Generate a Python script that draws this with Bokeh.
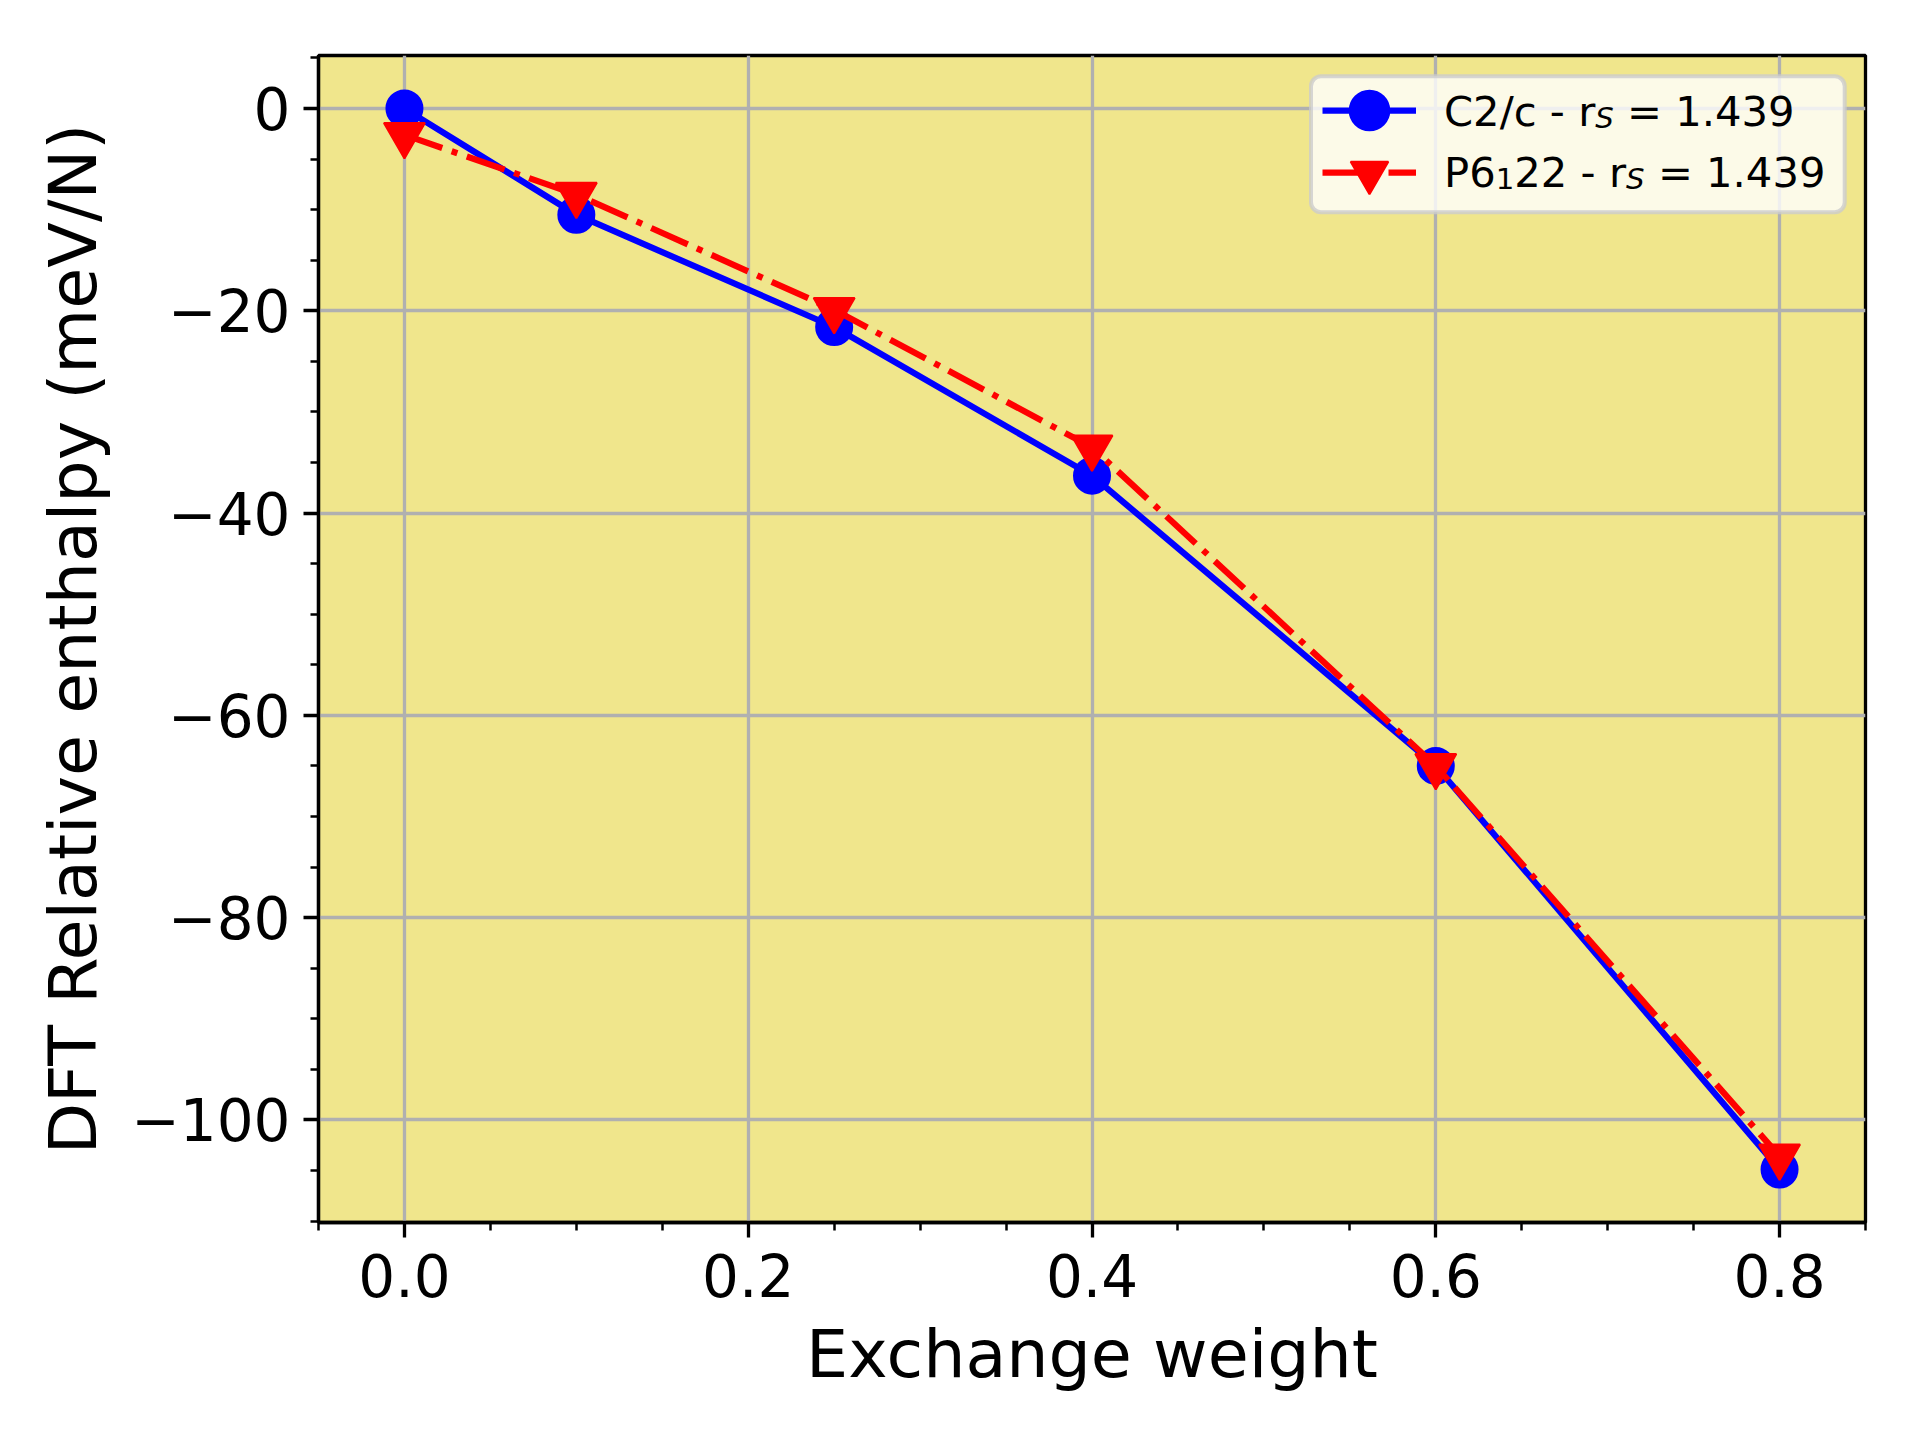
from bokeh.plotting import figure
from bokeh.models import (Range1d, FixedTicker, Label, BoxAnnotation,
                          Legend, LegendItem)
from bokeh.embed import file_html
from bokeh.resources import INLINE
import numpy as np

# Relative DFT enthalpy of the two hydrogen phases vs. exchange weight
exchange_weight = [0.0, 0.1, 0.25, 0.4, 0.6, 0.8]
h_c2c = [0.0, -10.5, -21.6, -36.3, -65.0, -104.9]
h_p6122 = [-2.6, -8.5, -19.9, -33.5, -65.0, -103.6]

x_ticks = [0.0, 0.2, 0.4, 0.6, 0.8]
x_tick_labels = ["0.0", "0.2", "0.4", "0.6", "0.8"]
y_ticks = [0, -20, -40, -60, -80, -100]
y_tick_labels = ["0", "\u221220", "\u221240", "\u221260", "\u221280", "\u2212100"]

FONT = "DejaVu Sans"

ymin = min(h_c2c + h_p6122)
ymax = max(h_c2c + h_p6122)
ypad = 0.05 * (ymax - ymin)

p = figure(width=1920, height=1440,
           x_range=Range1d(-0.05, 0.85),
           y_range=Range1d(ymin - ypad, ymax + ypad),
           output_backend="svg", toolbar_location=None,
           min_border_left=318, min_border_right=55,
           min_border_top=55, min_border_bottom=218)

p.background_fill_color = "#F0E68C"
p.border_fill_color = "white"
p.outline_line_color = "black"
p.outline_line_width = 3.3
p.outline_line_alpha = 1.0

xt = FixedTicker(ticks=x_ticks, minor_ticks=list(np.round(np.arange(-0.05, 0.851, 0.05), 3)))
yt = FixedTicker(ticks=y_ticks, minor_ticks=list(np.arange(-110, 6, 5)))
p.xaxis.ticker = xt
p.yaxis.ticker = yt
p.xgrid.ticker = xt
p.ygrid.ticker = yt
p.xaxis.major_label_overrides = dict(zip(x_ticks, x_tick_labels))
p.yaxis.major_label_overrides = dict(zip(y_ticks, y_tick_labels))

for ax in (p.xaxis[0], p.yaxis[0]):
    ax.axis_line_color = "black"
    ax.axis_line_width = 3.3
    ax.major_tick_line_color = "black"
    ax.major_tick_line_width = 3.3
    ax.major_tick_out = 15
    ax.major_tick_in = 0
    ax.minor_tick_line_color = "black"
    ax.minor_tick_line_width = 2.5
    ax.minor_tick_out = 8
    ax.minor_tick_in = 0
    ax.major_label_text_font = FONT
    ax.major_label_text_font_size = "58px"
    ax.major_label_text_color = "black"
    ax.axis_label_text_font = FONT
    ax.axis_label_text_font_size = "66.7px"
    ax.axis_label_text_font_style = "normal"
    ax.axis_label_text_color = "black"

p.xaxis.axis_label = "Exchange weight"
p.yaxis.axis_label = "DFT Relative enthalpy (meV/N)"
p.xaxis.major_label_standoff = 16
p.yaxis.major_label_standoff = 13
p.xaxis.axis_label_standoff = 15
p.yaxis.axis_label_standoff = 16

p.grid.grid_line_color = "#b0b0b0"
p.grid.grid_line_width = 3.3
p.grid.grid_line_alpha = 1.0

# C2/c: solid blue with circles
c_line = p.line(exchange_weight, h_c2c, line_color="#0000ff", line_width=6.25,
                line_join="round")
c_pts = p.scatter(exchange_weight, h_c2c, marker="circle", size=34,
                  fill_color="#0000ff", line_color="#0000ff", line_width=4)

# P6_122: dash-dot red with down triangles
r_line = p.line(exchange_weight, h_p6122, line_color="#ff0000", line_width=6.25,
                line_dash="40 10 6 10", line_join="round")
r_pts = p.scatter(exchange_weight, h_p6122, marker="inverted_triangle", size=41,
                  fill_color="#ff0000", line_color="#ff0000", line_width=2)

# legend frame
box = BoxAnnotation(left=992.5, right=1526.2, bottom=1010.3, top=1146.2,
                    left_units="screen", right_units="screen",
                    bottom_units="screen", top_units="screen",
                    fill_color="white", fill_alpha=0.8,
                    line_color="#cccccc", line_alpha=0.8, line_width=4,
                    border_radius=10, level="annotation")
p.add_layout(box)


# legend icons, one row each (labels are drawn separately to allow subscripts)
def legend_row(renderers, bottom):
    lg = Legend(items=[LegendItem(label="", renderers=renderers)],
                location=(1004, bottom), glyph_width=94, glyph_height=94,
                spacing=0, padding=0, margin=0, label_standoff=0,
                label_width=0, label_height=0,
                border_line_alpha=0, background_fill_alpha=0)
    p.add_layout(lg)


legend_row([c_line, c_pts], 1065)
legend_row([r_line, r_pts], 1003.3)


def legend_text(x, y, text, size="41.7px", style="normal"):
    p.add_layout(Label(x=x, y=y, x_units="screen", y_units="screen", text=text,
                       text_font=FONT, text_font_size=size,
                       text_font_style=style, text_color="black",
                       text_baseline="alphabetic", text_align="left"))


SUB = "29.2px"
DROP = 6.0
x0 = 1125.5
# row 1: C2/c - r_S = 1.439
b1 = 1111.0
legend_text(x0, b1, "C2/c - r")
legend_text(x0 + 151.3, b1 - DROP, "S", SUB, "italic")
legend_text(x0 + 183.1, b1, "= 1.439")
# row 2: P6_1 22 - r_S = 1.439
b2 = 1049.7
legend_text(x0, b2, "P6")
legend_text(x0 + 51.7, b2 - DROP, "1", SUB)
legend_text(x0 + 70.3, b2, "22 - r")
legend_text(x0 + 182.1, b2 - DROP, "S", SUB, "italic")
legend_text(x0 + 213.9, b2, "= 1.439")

open("out.html", "w").write(file_html(p, INLINE))
